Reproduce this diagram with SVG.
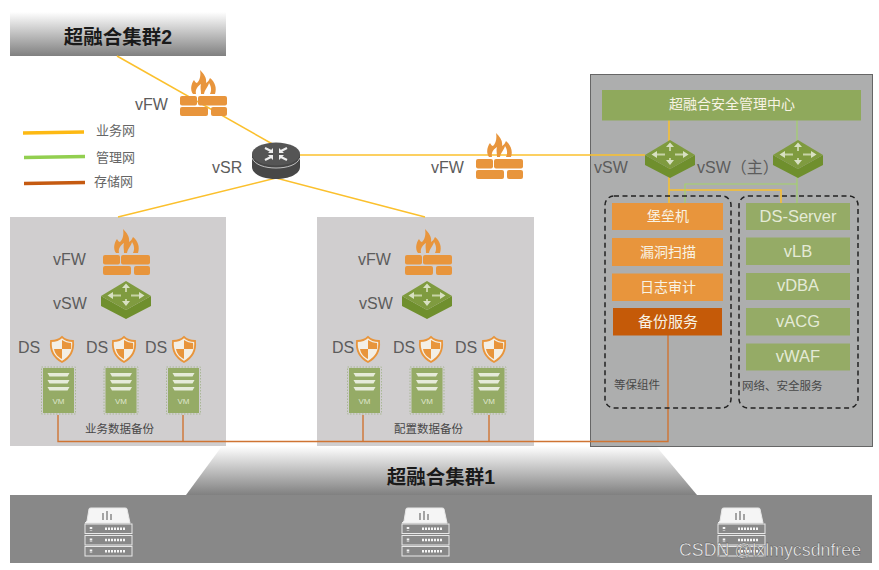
<svg xmlns="http://www.w3.org/2000/svg" width="879" height="570" viewBox="0 0 879 570">
<style>
text{font-family:"Liberation Sans","Noto Sans CJK SC",sans-serif}
.l{font-size:16px;fill:#5c5c5c;font-weight:400}
.c{font-size:13px;fill:#666}
.s{font-size:11.500px;fill:#484848}
.t{font-size:19.500px;font-weight:700;fill:#1a1a1a;text-anchor:middle}
.b{font-size:14px;fill:#f8f3e4;text-anchor:middle}
.g{font-size:16.500px;fill:#e4ead6;text-anchor:middle}
.y{fill:none;stroke:#fbc02d;stroke-width:1.5}
.gn{fill:none;stroke:#a4d468;stroke-width:1.100}
.o{fill:none;stroke:#cf7433;stroke-width:1.400}
.d{fill:none;stroke:#222;stroke-width:1.500;stroke-dasharray:5 3.500}
.or{fill:#e8953c}
.gr{fill:#95ab66}
</style>
<defs>
<linearGradient id="fade" x1="0" y1="0" x2="0" y2="1"><stop offset="0" stop-color="#fff"/><stop offset="1" stop-color="#808080"/></linearGradient>
<g id="fw">
<path class="or" d="M20 0C24 4 27 8 26 13C28 12 29 10 30 8C35 12 37 18 35 24H30C32 20 31 16 29 13C28 17 25 19 24 24H21C21 20 20 17 21 14C18 16 15 19 16 24H13C10 20 11 14 14 10C15 12 16 13 17 13C20 10 21 5 20 0Z"/>
<rect class="or" x="0" y="26" width="17" height="9.500" rx="2"/><rect class="or" x="18" y="26" width="29" height="9.500" rx="2"/>
<rect class="or" x="0" y="37" width="28" height="9" rx="2"/><rect class="or" x="31" y="37" width="16" height="9" rx="2"/>
</g>
<g id="sw">
<path d="M0 15V25L25 38L50 25V15L25 29Z" fill="#6f8f2d"/>
<path d="M25 0L50 15L25 29L0 15Z" fill="#7f9b3f"/>
<path d="M25 6V11M25 18V23M10 14.500H20M30 14.500H40" stroke="#c7d3a6" stroke-width="2" fill="none"/>
<path d="M21 7L25 2.500L29 7ZM21 20L25 25L29 20ZM12 11L6.500 14.500L12 18ZM38 11L43.500 14.500L38 18Z" fill="#d8e0c2"/>
</g>
<g id="shield">
<path d="M12 1C15 4 20 5 23 5C24 14 21 21 12 26C3 21 0 14 1 5C4 5 9 4 12 1Z" fill="#f3efe6" stroke="#e8953c" stroke-width="1.800"/>
<path d="M12 4V13H21C21.500 10 21 8 21 7C18 7 15 6 12 4ZM12 13H4C5 18 8 21 12 23Z" fill="#e8953c"/>
</g>
<g id="vm">
<rect x="-17" y="-1" width="34" height="47" fill="none" stroke="#a9b795" stroke-width="1" stroke-dasharray="1.500 1.500"/>
<rect x="-15.500" y="0" width="31" height="45" fill="#95ab66"/>
<path d="M-11 5H11L9 8.500H-9ZM-11 12H11L9 15.500H-9ZM-11 19H11L9 22.500H-9Z" fill="#e6ebd9"/>
<text x="0" y="36" font-size="8" fill="#dfe6cc" text-anchor="middle">VM</text>
</g>
<g id="srv" fill="none" stroke="#e8e8e8" stroke-width="1">
<path d="M3 13L5 1Q5 0 7 0H41Q43 0 43 1L46 15H1Z" fill="#f5f5f5"/>
<path d="M19 12V5M23 12V3M27 12V6" stroke="#888" stroke-width="1.500"/>
<rect x="1" y="16" width="47" height="9.500"/><rect x="1" y="27.500" width="47" height="9.500"/><rect x="1" y="38.500" width="47" height="9.500"/>
<path d="M7 19V22.500M7 30.500V34M7 41.500V45M21 20.800H41M21 32H41M21 43.300H41" stroke="#f5f5f5" stroke-width="2.500" stroke-dasharray="2 1"/>
</g>
</defs>

<rect width="879" height="570" fill="#fff"/>

<g id="cluster2"><rect x="10" y="12" width="216" height="44" fill="url(#fade)"/><text class="t" x="118" y="44">超融合集群2</text></g>
<g id="cluster1">
<path d="M222 446H656L697 495H186Z" fill="url(#fade)"/>
<rect x="10" y="495" width="862" height="68" fill="#888"/>
<text class="t" x="441" y="484">超融合集群1</text>
</g>
<g id="zoneA"><rect x="10" y="217" width="216" height="229" fill="#d0cecf"/></g>
<g id="zoneB"><rect x="317" y="217" width="217" height="229" fill="#d0cecf"/></g>
<g id="zoneC"><rect x="590.500" y="74.500" width="282" height="372" fill="#adaeae" stroke="#666" stroke-width="1"/></g>

<g id="connectors">
<path class="y" d="M117 56L276 146"/>
<path class="y" d="M118 217L276 178L425 217"/>
<path class="y" d="M298 155H645"/>
<path class="y" d="M669 120V203" stroke-width="2"/>
<path class="y" d="M669 190H781V203"/>
<path class="gn" d="M797 120V203M685 203V184H797"/>
<path class="o" d="M668 335V441.500H58V415M183 415V441.500M363 415V441.500M489 415V441.500"/>
<path d="M23 133L84 132" fill="none" stroke="#fdb913" stroke-width="3.500"/>
<path d="M24 157.500L85 156.500" fill="none" stroke="#92cf50" stroke-width="3.500"/>
<path d="M24 183.500L85 182.500" fill="none" stroke="#c55a11" stroke-width="3.500"/>
</g>

<g id="legend">
<text class="c" x="96" y="135">业务网</text>
<text class="c" x="96" y="162">管理网</text>
<text class="c" x="94" y="186">存储网</text>
</g>

<g id="vfw-top"><use href="#fw" x="180" y="70"/><text class="l" x="135" y="110">vFW</text></g>
<g id="vsr">
<path d="M252 154V167C252 174 263 179 276 179C289 179 300 174 300 167V154Z" fill="#474747"/>
<ellipse cx="276" cy="154" rx="24" ry="11.500" fill="#555"/>
<path d="M252 158C255 165 265 168 276 168C287 168 297 165 300 158" fill="none" stroke="#ddd" stroke-width=".8"/>
<path d="M265 148L271 151M287 148L281 151M265 160L271 157M287 160L281 157" stroke="#eee" stroke-width="2.200"/>
<path d="M273 148V153H268ZM279 148V153H284ZM268 155H273V160ZM284 155H279V160Z" fill="#eee"/>
<text class="l" x="212" y="173">vSR</text>
</g>
<g id="vfw-mid"><use href="#fw" x="476" y="133"/><text class="l" x="431" y="173">vFW</text></g>

<g id="sec-center"><rect x="602" y="90" width="259" height="30.500" fill="#8fa95c"/><text class="b" x="732" y="109">超融合安全管理中心</text></g>
<g id="vsw1"><use href="#sw" x="645" y="140"/><text class="l" x="594" y="173">vSW</text></g>
<g id="vsw2"><use href="#sw" x="773" y="140"/><text class="l" x="697" y="173">vSW（主）</text></g>

<g id="group-left">
<rect class="d" x="605" y="196" width="126" height="212" rx="9"/>
<rect class="or" x="612" y="203" width="111" height="27"/><text class="b" x="668" y="221">堡垒机</text>
<rect class="or" x="612" y="238" width="111" height="28"/><text class="b" x="668" y="257">漏洞扫描</text>
<rect class="or" x="612" y="273.500" width="111" height="27.500"/><text class="b" x="668" y="292">日志审计</text>
<rect x="613" y="308" width="109" height="27.500" fill="#c55a08"/><text class="b" x="668" y="327" style="font-size:15px">备份服务</text>
<text class="s" x="614" y="389">等保组件</text>
</g>
<g id="group-right">
<rect class="d" x="739" y="196" width="119" height="212" rx="9"/>
<rect class="gr" x="746" y="203" width="104" height="27"/><text class="g" x="798" y="222">DS-Server</text>
<rect class="gr" x="746" y="237.500" width="104" height="27.500"/><text class="g" x="798" y="257">vLB</text>
<rect class="gr" x="746" y="273" width="104" height="27"/><text class="g" x="798" y="291">vDBA</text>
<rect class="gr" x="746" y="308" width="104" height="27.500"/><text class="g" x="798" y="327">vACG</text>
<rect class="gr" x="746" y="343.500" width="104" height="27"/><text class="g" x="798" y="362">vWAF</text>
<text class="s" x="742" y="390">网络、安全服务</text>
</g>

<g id="nodeA">
<use href="#fw" x="103" y="229"/><text class="l" x="53" y="265">vFW</text>
<use href="#sw" x="101" y="281"/><text class="l" x="53" y="309">vSW</text>
<text class="l" x="18" y="353">DS</text><use href="#shield" x="50" y="336"/>
<text class="l" x="86" y="353">DS</text><use href="#shield" x="112" y="336"/>
<text class="l" x="145" y="353">DS</text><use href="#shield" x="172" y="336"/>
<use href="#vm" x="58.500" y="368"/><use href="#vm" x="121" y="368"/><use href="#vm" x="183.500" y="368"/>
<text class="s" x="85" y="433">业务数据备份</text>
</g>
<g id="nodeB">
<use href="#fw" x="405" y="229"/><text class="l" x="358" y="265">vFW</text>
<use href="#sw" x="402" y="281"/><text class="l" x="359" y="309">vSW</text>
<text class="l" x="332" y="353">DS</text><use href="#shield" x="356" y="336"/>
<text class="l" x="393" y="353">DS</text><use href="#shield" x="419" y="336"/>
<text class="l" x="455" y="353">DS</text><use href="#shield" x="482" y="336"/>
<use href="#vm" x="364.500" y="368"/><use href="#vm" x="427" y="368"/><use href="#vm" x="489" y="368"/>
<text class="s" x="394" y="433">配置数据备份</text>
</g>

<g id="servers"><use href="#srv" x="84" y="508"/><use href="#srv" x="401" y="508"/><use href="#srv" x="717" y="508"/></g>
<text x="679" y="556" font-size="17.800" fill="#fff" fill-opacity=".92" stroke="#444" stroke-width=".35">CSDN @lxlmycsdnfree</text>
</svg>
